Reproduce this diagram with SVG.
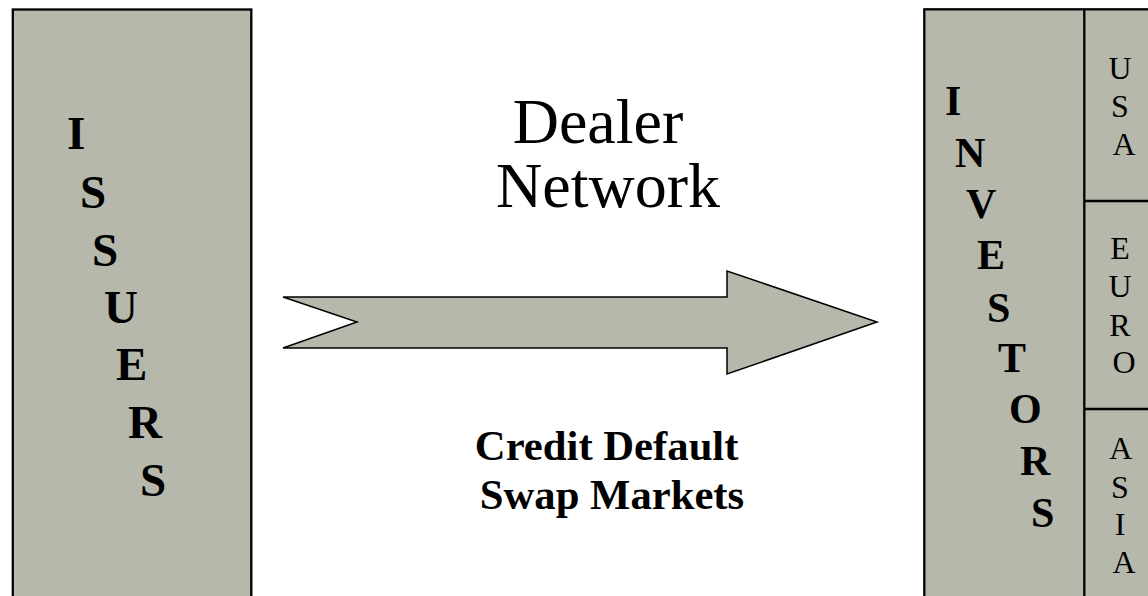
<svg xmlns="http://www.w3.org/2000/svg" width="1148" height="596" viewBox="0 0 1148 596">
<style>
.box{fill:#b6b8ab;stroke:#000;stroke-width:2.3}
.div{stroke:#000;stroke-width:2.3;fill:none}
.big{font-family:"Liberation Serif","Times New Roman",serif;font-weight:bold;fill:#000}
.reg{font-family:"Liberation Serif","Times New Roman",serif;fill:#000}
</style>
<rect width="1148" height="596" fill="#fff"/>
<g id="issuers">
<rect class="box" x="12.8" y="9.5" width="238.5" height="620"/>
<text class="big" font-size="47">
<tspan x="67" y="149">I</tspan>
<tspan x="80" y="208">S</tspan>
<tspan x="92" y="266">S</tspan>
<tspan x="104" y="323">U</tspan>
<tspan x="116" y="380">E</tspan>
<tspan x="128" y="438">R</tspan>
<tspan x="140" y="496">S</tspan>
</text>
</g>
<g id="investors">
<rect class="box" x="924.3" y="9.3" width="240" height="620"/>
<line class="div" x1="1084.3" y1="9.3" x2="1084.3" y2="600"/>
<line class="div" x1="1084.3" y1="201" x2="1150" y2="201"/>
<line class="div" x1="1084.3" y1="409" x2="1150" y2="409"/>
<text class="big" font-size="42">
<tspan x="945" y="115">I</tspan>
<tspan x="955" y="167">N</tspan>
<tspan x="966" y="218">V</tspan>
<tspan x="977" y="269">E</tspan>
<tspan x="987" y="322">S</tspan>
<tspan x="998" y="372">T</tspan>
<tspan x="1009" y="423">O</tspan>
<tspan x="1020" y="475">R</tspan>
<tspan x="1031" y="527">S</tspan>
</text>
</g>
<g id="usa">
<text class="reg" font-size="32" text-anchor="middle">
<tspan x="1124" y="79">U</tspan>
<tspan x="1124" y="117">S</tspan>
<tspan x="1124" y="155">A</tspan>
</text>
</g>
<g id="euro">
<text class="reg" font-size="32" text-anchor="middle">
<tspan x="1124" y="259">E</tspan>
<tspan x="1124" y="297">U</tspan>
<tspan x="1124" y="336">R</tspan>
<tspan x="1124" y="373">O</tspan>
</text>
</g>
<g id="asia">
<text class="reg" font-size="32" text-anchor="middle">
<tspan x="1124" y="459">A</tspan>
<tspan x="1124" y="498">S</tspan>
<tspan x="1124" y="535">I</tspan>
<tspan x="1124" y="573">A</tspan>
</text>
</g>
<g id="dealer-network">
<text class="reg" font-size="64" text-anchor="middle">
<tspan x="606" y="143">Dealer</tspan>
<tspan x="608" y="207">Network</tspan>
</text>
</g>
<g id="cds-markets">
<text class="big" font-size="42.7" text-anchor="middle">
<tspan x="612" y="460">Credit Default</tspan>
<tspan x="612" y="509">Swap Markets</tspan>
</text>
</g>
<g id="connectors">
<polygon points="283,297 727,297 727,271 877,322 727,374 727,348 283,348 357,322" fill="#b6b8ab" stroke="#000" stroke-width="1.5" stroke-linejoin="miter"/>
</g>
</svg>
